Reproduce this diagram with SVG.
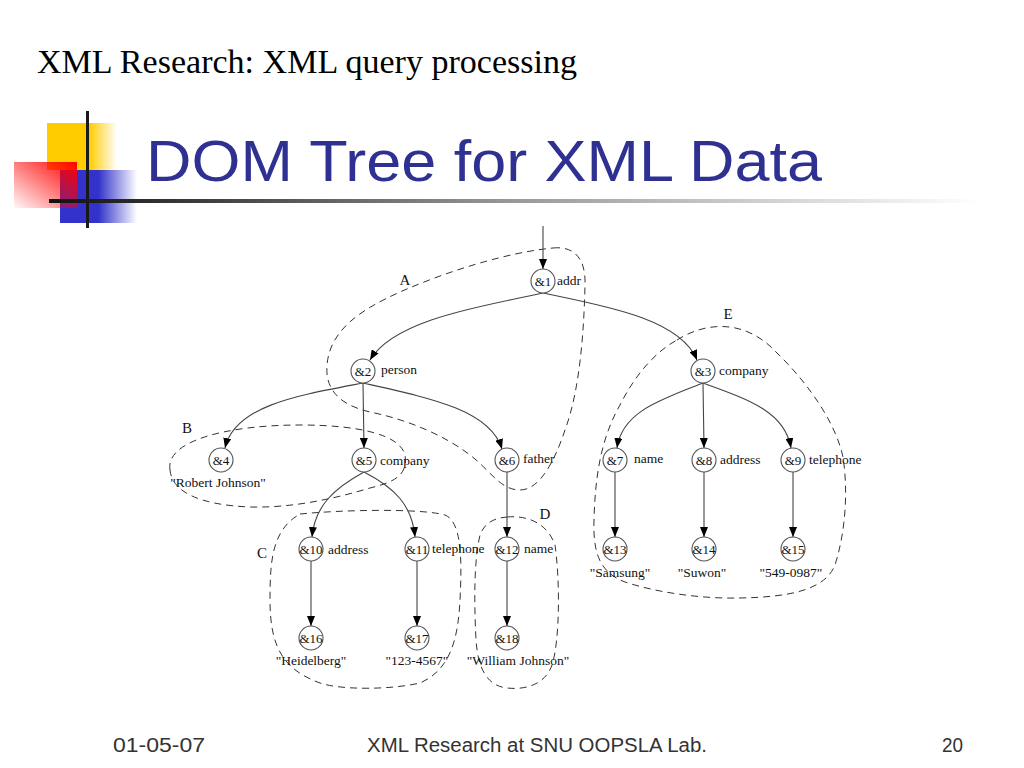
<svg xmlns="http://www.w3.org/2000/svg" width="1024" height="768" viewBox="0 0 1024 768">
<defs>
<linearGradient id="gY" x1="0" y1="0" x2="1" y2="0"><stop offset="0" stop-color="#FFCC00"/><stop offset="0.6" stop-color="#FFCC00"/><stop offset="1" stop-color="#FFCC00" stop-opacity="0"/></linearGradient>
<linearGradient id="gB" x1="0" y1="0" x2="1" y2="0"><stop offset="0" stop-color="#3333CC"/><stop offset="0.5" stop-color="#3333CC"/><stop offset="1" stop-color="#3333CC" stop-opacity="0"/></linearGradient>
<linearGradient id="gR" x1="1" y1="0" x2="0" y2="1"><stop offset="0" stop-color="#FF0000"/><stop offset="1" stop-color="#FF0000" stop-opacity="0.03"/></linearGradient>
<linearGradient id="gL" x1="0" y1="0" x2="1" y2="0"><stop offset="0" stop-color="#111"/><stop offset="0.5" stop-color="#999"/><stop offset="1" stop-color="#fff"/></linearGradient>
<marker id="ah" markerUnits="userSpaceOnUse" markerWidth="10" markerHeight="8" refX="10" refY="4" orient="auto"><path d="M0,0 L10,4 L0,8 z" fill="#000"/></marker>
<style>
.edge{fill:none;stroke:#444;stroke-width:1.1;marker-end:url(#ah)}
.reg{fill:none;stroke:#333;stroke-width:1;stroke-dasharray:7 5}
.nd circle{fill:#fff;stroke:#555;stroke-width:1.1}
.nt{font-family:"Liberation Serif",serif;font-size:13px;fill:#111;text-anchor:middle}
.lb{font-family:"Liberation Serif",serif;font-size:13.5px;fill:#111}
.vl{font-family:"Liberation Serif",serif;font-size:13.5px;fill:#111;text-anchor:middle}
.rl{font-family:"Liberation Serif",serif;font-size:15px;fill:#111;text-anchor:middle}
.ft{font-family:"Liberation Sans",Arial,sans-serif;font-size:20px;fill:#333}
</style>
</defs>
<rect width="1024" height="768" fill="#fff"/>
<g id="logo">
<rect x="47" y="123" width="70" height="47" fill="url(#gY)"/>
<rect x="60" y="170" width="77" height="53" fill="url(#gB)"/>
<rect x="14" y="162" width="63" height="46" fill="url(#gR)"/>
<rect x="86" y="111" width="3" height="117" fill="#1a1a1a"/>
<rect x="49" y="199" width="930" height="4" fill="url(#gL)"/>
</g>
<text x="37" y="73" font-family="'Liberation Serif',serif" font-size="33" fill="#000" textLength="540" lengthAdjust="spacingAndGlyphs">XML Research: XML query processing</text>
<text x="146" y="181" font-family="'Liberation Sans',Arial,sans-serif" font-size="58" fill="#2E3192" textLength="676" lengthAdjust="spacingAndGlyphs">DOM Tree for XML Data</text>

<g id="regions">
<path class="reg" d="M553,248 C572,246 586,256 585,285 C584,330 580,390 565,430 C555,460 540,490 520,490 C500,490 490,470 470,455 C440,432 400,418 370,412 C340,405 325,390 327,365 C330,330 360,310 400,292 C450,270 510,252 553,248 Z"/>
<path class="reg" d="M170,470 C165,440 230,425 300,425 C360,425 400,435 405,455 C408,475 395,482 370,488 C330,500 290,508 250,507 C200,505 172,492 170,470 Z"/>
<path class="reg" d="M300,514 C340,510 420,508 445,515 C462,522 462,560 460,600 C458,640 450,670 420,683 C390,690 340,690 320,683 C285,670 270,650 270,600 C270,560 272,530 300,514 Z"/>
<path class="reg" d="M507,517 C530,515 548,525 555,545 C560,580 560,640 552,665 C545,685 525,690 507,688 C488,686 478,670 476,640 C474,600 474,560 480,535 C485,522 495,518 507,517 Z"/>
<path class="reg" d="M677,340 C705,322 745,318 777,353 C805,380 835,420 843,457 C848,490 846,530 835,565 C825,590 790,597 740,598 C700,599 655,592 625,582 C598,572 593,550 594,520 C595,480 600,440 620,405 C635,375 655,352 677,340 Z"/>
<text class="rl" x="405" y="285">A</text>
<text class="rl" x="187" y="433">B</text>
<text class="rl" x="262" y="558">C</text>
<text class="rl" x="545" y="519">D</text>
<text class="rl" x="728" y="319">E</text>
</g>

<g id="connectors">
<path class="edge" d="M543,226 L543,269"/>
<path class="edge" d="M543,293 C490,305 395,318 370,360"/>
<path class="edge" d="M543,293 C600,305 680,318 697,360"/>
<path class="edge" d="M363,383 C300,395 235,405 225,448"/>
<path class="edge" d="M363,383 L364,448"/>
<path class="edge" d="M363,383 C430,398 490,410 502,449"/>
<path class="edge" d="M703,383 C660,400 622,412 617,448"/>
<path class="edge" d="M703,383 L704,448"/>
<path class="edge" d="M703,383 C750,400 785,412 791,448"/>
<path class="edge" d="M364,472 C335,488 315,505 312,537"/>
<path class="edge" d="M364,472 C395,488 412,505 415,537"/>
<path class="edge" d="M507,472 L507,537"/>
<path class="edge" d="M615,472 L615,537"/>
<path class="edge" d="M704,472 L704,537"/>
<path class="edge" d="M793,472 L793,537"/>
<path class="edge" d="M311,561 L311,626"/>
<path class="edge" d="M417,561 L417,626"/>
<path class="edge" d="M507,561 L507,626"/>
</g>

<g id="n1" class="nd"><circle cx="543" cy="281" r="12"/><text class="nt" x="543" y="286">&amp;1</text><text class="lb" x="557" y="285">addr</text></g>
<g id="n2" class="nd"><circle cx="363" cy="371" r="12"/><text class="nt" x="363" y="376">&amp;2</text><text class="lb" x="381" y="374">person</text></g>
<g id="n3" class="nd"><circle cx="703" cy="371" r="12"/><text class="nt" x="703" y="376">&amp;3</text><text class="lb" x="719" y="375">company</text></g>
<g id="n4" class="nd"><circle cx="221" cy="460" r="12"/><text class="nt" x="221" y="465">&amp;4</text><text class="vl" x="218" y="487">"Robert Johnson"</text></g>
<g id="n5" class="nd"><circle cx="364" cy="460" r="12"/><text class="nt" x="364" y="465">&amp;5</text><text class="lb" x="380" y="465">company</text></g>
<g id="n6" class="nd"><circle cx="507" cy="460" r="12"/><text class="nt" x="507" y="465">&amp;6</text><text class="lb" x="523" y="463">father</text></g>
<g id="n7" class="nd"><circle cx="615" cy="460" r="12"/><text class="nt" x="615" y="465">&amp;7</text><text class="lb" x="634" y="463">name</text></g>
<g id="n8" class="nd"><circle cx="704" cy="460" r="12"/><text class="nt" x="704" y="465">&amp;8</text><text class="lb" x="720" y="464">address</text></g>
<g id="n9" class="nd"><circle cx="793" cy="460" r="12"/><text class="nt" x="793" y="465">&amp;9</text><text class="lb" x="809" y="464">telephone</text></g>
<g id="n10" class="nd"><circle cx="311" cy="549" r="12"/><text class="nt" x="311" y="554">&amp;10</text><text class="lb" x="328" y="554">address</text></g>
<g id="n11" class="nd"><circle cx="417" cy="549" r="12"/><text class="nt" x="417" y="554">&amp;11</text><text class="lb" x="432" y="553">telephone</text></g>
<g id="n12" class="nd"><circle cx="507" cy="549" r="12"/><text class="nt" x="507" y="554">&amp;12</text><text class="lb" x="524" y="553">name</text></g>
<g id="n13" class="nd"><circle cx="615" cy="549" r="12"/><text class="nt" x="615" y="554">&amp;13</text><text class="vl" x="620" y="577">"Samsung"</text></g>
<g id="n14" class="nd"><circle cx="704" cy="549" r="12"/><text class="nt" x="704" y="554">&amp;14</text><text class="vl" x="702" y="577">"Suwon"</text></g>
<g id="n15" class="nd"><circle cx="793" cy="549" r="12"/><text class="nt" x="793" y="554">&amp;15</text><text class="vl" x="791" y="577">"549-0987"</text></g>
<g id="n16" class="nd"><circle cx="311" cy="638" r="12"/><text class="nt" x="311" y="643">&amp;16</text><text class="vl" x="311" y="665">"Heidelberg"</text></g>
<g id="n17" class="nd"><circle cx="417" cy="638" r="12"/><text class="nt" x="417" y="643">&amp;17</text><text class="vl" x="417" y="665">"123-4567"</text></g>
<g id="n18" class="nd"><circle cx="507" cy="638" r="12"/><text class="nt" x="507" y="643">&amp;18</text><text class="vl" x="518" y="665">"William Johnson"</text></g>

<g id="footer">
<text class="ft" x="113" y="752" textLength="92" lengthAdjust="spacingAndGlyphs">01-05-07</text>
<text class="ft" x="367" y="752" textLength="340" lengthAdjust="spacingAndGlyphs">XML Research at SNU OOPSLA Lab.</text>
<text class="ft" x="942" y="752" textLength="21" lengthAdjust="spacingAndGlyphs">20</text>
</g>
</svg>
